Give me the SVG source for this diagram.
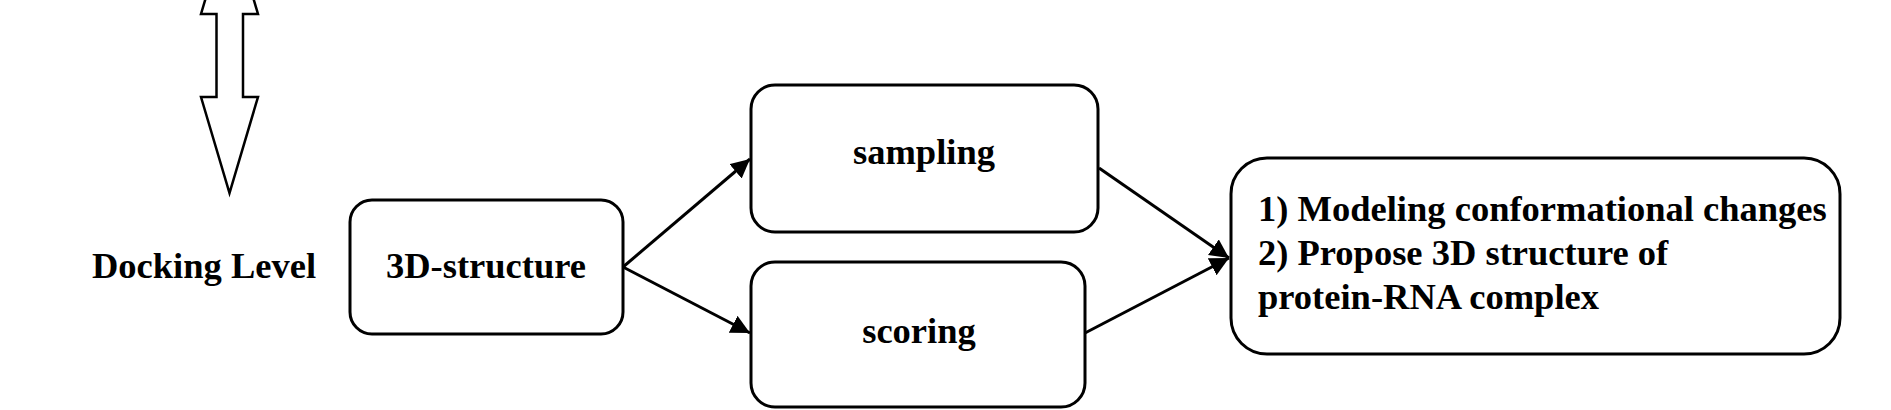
<svg xmlns="http://www.w3.org/2000/svg" width="1891" height="410" viewBox="0 0 1891 410">
<defs>
<style>
.box{fill:#fff;stroke:#000;stroke-width:3}
.t{font-family:"Liberation Serif","Times New Roman",serif;font-weight:bold;font-size:36.5px;fill:#000}
.c{fill:none;stroke:#000;stroke-width:3}
</style>
<marker id="ah" markerUnits="userSpaceOnUse" markerWidth="22" markerHeight="22" refX="19" refY="9.5" orient="auto">
<path d="M0,0 L19,9.5 L0,19 z" fill="#000"/>
</marker>
</defs>
<rect width="1891" height="410" fill="#fff"/>
<g id="double-arrow">
<polygon points="229.5,-82 258,14 243,14 243,97 258,97 229.5,193 201,97 216.5,97 216.5,14 201,14" fill="#fff" stroke="#000" stroke-width="2.5" stroke-linejoin="miter"/>
</g>
<g id="docking-level">
<text class="t" x="204" y="278" text-anchor="middle">Docking Level</text>
</g>
<g id="structure">
<rect class="box" x="350" y="200" width="273" height="134" rx="22"/>
<text class="t" x="486" y="278" text-anchor="middle">3D-structure</text>
</g>
<g id="sampling">
<rect class="box" x="751" y="85" width="347" height="147" rx="24"/>
<text class="t" x="924" y="164" text-anchor="middle">sampling</text>
</g>
<g id="scoring">
<rect class="box" x="751" y="262" width="334" height="145" rx="24"/>
<text class="t" x="919" y="343" text-anchor="middle">scoring</text>
</g>
<g id="result">
<rect class="box" x="1231" y="158" width="609" height="196" rx="36"/>
<text class="t" x="1258" y="221">1) Modeling conformational changes</text>
<text class="t" x="1258" y="265">2) Propose 3D structure of</text>
<text class="t" x="1258" y="309">protein-RNA complex</text>
</g>
<g id="connectors">
<line class="c" x1="623" y1="267" x2="750" y2="159" marker-end="url(#ah)"/>
<line class="c" x1="623" y1="267" x2="750" y2="333" marker-end="url(#ah)"/>
<line class="c" x1="1099" y1="168" x2="1229" y2="258" marker-end="url(#ah)"/>
<line class="c" x1="1085" y1="333" x2="1229" y2="258" marker-end="url(#ah)"/>
</g>
</svg>
